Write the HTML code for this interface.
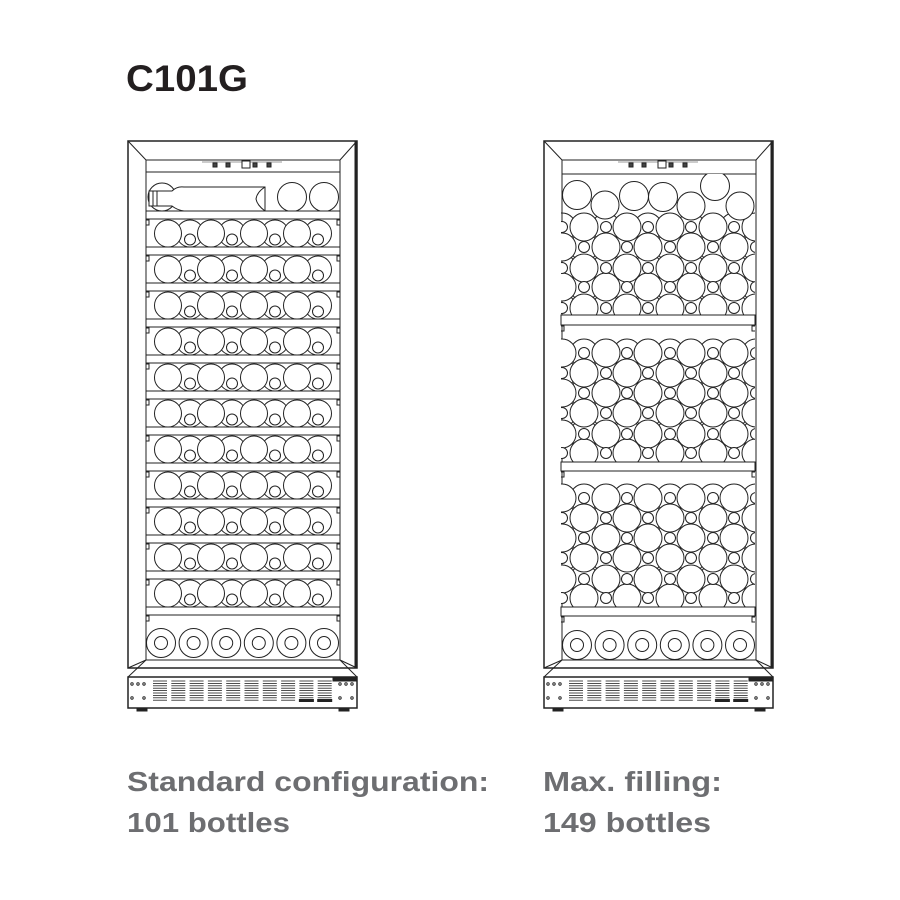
<!DOCTYPE html>
<html><head><meta charset="utf-8"><style>
html,body{margin:0;padding:0;background:#fff;width:900px;height:900px;overflow:hidden}
svg{display:block}
</style></head><body>
<svg id="s" width="900" height="900" viewBox="0 0 900 900" xmlns="http://www.w3.org/2000/svg">
<defs>
<clipPath id="cl"><rect x="146" y="172" width="194" height="488"/></clipPath>
<clipPath id="c1"><rect x="561" y="174" width="194" height="141"/></clipPath>
<clipPath id="c2"><rect x="561" y="325" width="194" height="137"/></clipPath>
<clipPath id="c3"><rect x="561" y="471" width="194" height="136"/></clipPath>
</defs>
<text x="126" y="91" font-family="Liberation Sans, sans-serif" font-weight="bold" font-size="37" fill="#231f20" textLength="122" lengthAdjust="spacingAndGlyphs">C101G</text>
<g font-family="Liberation Sans, sans-serif" font-weight="bold" font-size="28" fill="#6d6e71">
<text x="127" y="791" textLength="362" lengthAdjust="spacingAndGlyphs">Standard configuration:</text>
<text x="127" y="832" textLength="163" lengthAdjust="spacingAndGlyphs">101 bottles</text>
<text x="543" y="791" textLength="179" lengthAdjust="spacingAndGlyphs">Max. filling:</text>
<text x="543" y="832" textLength="168" lengthAdjust="spacingAndGlyphs">149 bottles</text>
</g>
<g id="g" stroke="#222" stroke-width="1" fill="none"></g>
</svg>
<script>
var g=document.getElementById('g'),NS='http://www.w3.org/2000/svg';
function el(t,a,p){var e=document.createElementNS(NS,t);for(var k in a)e.setAttribute(k,a[k]);(p||g).appendChild(e);return e;}
function C(x,y,r,f,p){return el('circle',{cx:x,cy:y,r:r,fill:f||'none'},p);}
function L(x1,y1,x2,y2,w,p){return el('line',{x1:x1,y1:y1,x2:x2,y2:y2,'stroke-width':w||1},p);}
function R(x,y,w,h,f,p,sw){return el('rect',{x:x,y:y,width:w,height:h,fill:f||'none','stroke-width':sw||1},p);}
function fridge(ox,ctrlY){
  var iL=ox+19,iR=ox+213;
  R(ox+1,141,229,527,'#fff',null,1.5);
  R(iL,160,194,500,'#fff');
  L(ox+1,141,iL,160);L(ox+230,141,iR,160);L(ox+1,668,iL,660);L(ox+230,668,iR,660);
  R(ox+228,141,2,527,'#222');
  L(iL,ctrlY,iR,ctrlY);
  L(ox+75,162,ox+155,162,1).setAttribute('stroke','#999');
  R(ox+86,163,4,4,'#444');R(ox+99,163,4,4,'#444');R(ox+115,161,8,7,'#fff');R(ox+126,163,4,4,'#444');R(ox+140,163,4,4,'#444');
  R(ox+1,677,229,31,'#fff',null,1.5);
  L(ox+1,677,iL,660);L(ox+230,677,iR,660);
  R(ox+10,708,10,3,'#222');R(ox+212,708,10,3,'#222');
  [[ox+5,684],[ox+11,684],[ox+17,684],[ox+5,698],[ox+17,698],[ox+213,684],[ox+219,684],[ox+225,684],[ox+213,698],[ox+225,698]].forEach(function(d){C(d[0],d[1],1.2)});
  R(ox+206,678,24,3,'#222');
  for(var k=0;k<10;k++){var vx=ox+26+k*18.3;
    for(var j=0;j<9;j++){L(vx,681+j*2.4,vx+14,681+j*2.4,0.8);}
    if(k>=8)R(vx,699.5,14,2,'#222');
  }
  for(var i=0;i<6;i++){var bx=iL+15+i*32.6,by=ox<300?643:645;C(bx,by,14.5,'#fff');C(bx,by,6.5,'#fff');}
}
fridge(127,172);fridge(543,174);
var gl=el('g',{'clip-path':'url(#cl)'});
function band(x,y,w,h){R(x,y,w,h,'#fff');el('path',{d:'M'+x+' '+(y+h+1)+'h3v5h-3M'+(x+w)+' '+(y+h+1)+'h-3v5h3'});}
for(var k=1;k<=11;k++){
  var by=211+36*k,cy=by-13.5;
  [190,232,275,318].forEach(function(x){C(x,cy,13.5,null,gl)});
  [168,211,254,297].forEach(function(x){C(x,cy,13.5,'#fff',gl)});
  [190,232,275,318].forEach(function(x){C(x,cy+6,5.5,'#fff',gl)});
}
C(162,197,14,'#fff',gl);
el('path',{d:'M149 191 L172 191 Q177 186 184 187 L265 187 L265 211 L184 211 Q177 210 172 206 L149 206 Z',fill:'#fff'},gl);
el('path',{d:'M265 187 Q257 192 256 199 Q257 205 265 211 M153 191 L153 206 M157 191 L157 206'},gl);
C(292,197,14.5,'#fff',gl);C(324,197,14.5,'#fff',gl);
for(var k=0;k<=11;k++){band(146,211+36*k,194,8);}
var A=[584,627,670,713,756],B=[562,606,648,691,734];
function sec(clip,rows){
  var p=el('g',{'clip-path':'url('+clip+')'});
  rows.forEach(function(r){var sm=r[1]==584?B:A;sm.forEach(function(x){C(x,r[0],14,null,p)});});
  rows.forEach(function(r){var bg=r[1]==584?A:B;bg.forEach(function(x){C(x,r[0],14,'#fff',p)});});
  rows.forEach(function(r){var sm=r[1]==584?B:A;sm.forEach(function(x){C(x,r[0],5.5,'#fff',p)});});
  return p;
}
var p1=sec('#c1',[[227,584],[247,606],[268,584],[287,606],[308,584]]);
[[577,195,14.5],[605,205,14],[634,196,14.5],[663,197,14.5],[691,206,14],[715,186,14.5],[740,206,14]].forEach(function(c){C(c[0],c[1],c[2],'#fff',p1)});
sec('#c2',[[353,606],[373,584],[393,606],[413,584],[434,606],[453,584]]);
sec('#c3',[[498,606],[518,584],[538,606],[558,584],[579,606],[598,584]]);
band(561,315,194,10);band(561,462,194,9);band(561,607,194,9);
</script>
</body></html>
